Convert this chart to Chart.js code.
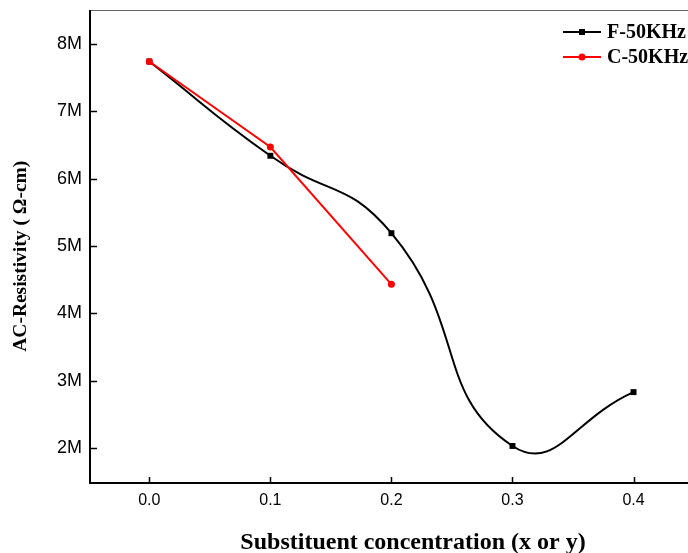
<!DOCTYPE html>
<html>
<head>
<meta charset="utf-8">
<script src="https://cdn.jsdelivr.net/npm/chart.js@4/dist/chart.umd.min.js"></script>
<style>
html,body{margin:0;padding:0;background:#fff;}
#wrap{width:688px;height:553px;position:relative;}
</style>
</head>
<body>
<div id="wrap"><canvas id="c" width="688" height="553"></canvas></div>
<script>
const xValues = [0.0, 0.1, 0.2, 0.3, 0.4];
const fSeries = [7.74e6, 6.34e6, 5.19e6, 2.03e6, 2.83e6];
const cSeries = [7.74e6, 6.47e6, 4.43e6];
const xTicks = [0.0, 0.1, 0.2, 0.3, 0.4];
const yTicks = [2e6, 3e6, 4e6, 5e6, 6e6, 7e6, 8e6];
const seriesNames = ['F-50KHz', 'C-50KHz'];
const xTitle = 'Substituent concentration (x or y)';
const yTitle = 'AC-Resistivity ( \u03A9-cm)';

const fData = fSeries.map((v, i) => ({x: xValues[i], y: v}));
const cData = cSeries.map((v, i) => ({x: xValues[i], y: v}));

function noPad(s) { s.paddingTop = 0; s.paddingBottom = 0; s.paddingLeft = 0; s.paddingRight = 0; }

const decor = {
  id: 'decor',
  afterDraw(chart) {
    const ctx = chart.ctx;
    const a = chart.chartArea;
    const xs = chart.scales.x, ys = chart.scales.y;
    ctx.save();
    // top border
    ctx.strokeStyle = '#666';
    ctx.lineWidth = 1;
    ctx.beginPath(); ctx.moveTo(a.left, a.top + 0.5); ctx.lineTo(a.right, a.top + 0.5); ctx.stroke();
    // axes
    ctx.strokeStyle = '#000';
    ctx.lineWidth = 2;
    ctx.beginPath(); ctx.moveTo(a.left, a.top); ctx.lineTo(a.left, a.bottom); ctx.lineTo(a.right, a.bottom); ctx.stroke();
    // inward ticks
    ctx.lineWidth = 1.5;
    xTicks.forEach(t => {
      const px = Math.round(xs.getPixelForValue(t)) + 0.5;
      ctx.beginPath(); ctx.moveTo(px, a.bottom); ctx.lineTo(px, a.bottom - 6); ctx.stroke();
    });
    yTicks.forEach(t => {
      const py = Math.round(ys.getPixelForValue(t)) + 0.5;
      ctx.beginPath(); ctx.moveTo(a.left, py); ctx.lineTo(a.left + 7, py); ctx.stroke();
    });
    // legend
    const items = [
      {name: seriesNames[0], color: '#000', shape: 'sq', y: 32},
      {name: seriesNames[1], color: '#ff0000', shape: 'ci', y: 57}
    ];
    items.forEach(it => {
      ctx.strokeStyle = it.color; ctx.fillStyle = it.color; ctx.lineWidth = 2;
      ctx.beginPath(); ctx.moveTo(563, it.y); ctx.lineTo(601, it.y); ctx.stroke();
      if (it.shape === 'sq') { ctx.fillRect(579, it.y - 3, 6, 6); }
      else { ctx.beginPath(); ctx.arc(582, it.y, 3.5, 0, Math.PI * 2); ctx.fill(); }
      ctx.fillStyle = '#000';
      ctx.font = 'bold 20px "Liberation Serif"';
      ctx.textBaseline = 'middle';
      ctx.textAlign = 'left';
      ctx.fillText(it.name, 607, it.y + 1);
    });
    ctx.restore();
  }
};

new Chart(document.getElementById('c'), {
  type: 'line',
  data: {
    datasets: [
      {label: seriesNames[1], data: cData, borderColor: '#ff0000', backgroundColor: '#ff0000',
       borderWidth: 2, pointStyle: 'circle', pointRadius: 3.5, pointBorderWidth: 0, tension: 0, order: 0},
      {label: seriesNames[0], data: fData, borderColor: '#000', backgroundColor: '#000',
       borderWidth: 2, pointStyle: 'rect', pointRadius: 4.2, pointBorderWidth: 0, tension: 0.5, order: 1}
    ]
  },
  options: {
    responsive: false,
    animation: false,
    devicePixelRatio: 1,
    layout: {autoPadding: false, padding: {top: 10, right: 0, left: 0, bottom: 0}},
    plugins: {legend: {display: false}, tooltip: {enabled: false}},
    scales: {
      x: {
        type: 'linear', min: -0.049, max: 0.445,
        afterBuildTicks: s => { s.ticks = xTicks.map(v => ({value: v})); },
        afterFit: s => { s.height = 70; noPad(s); },
        grid: {display: false, drawTicks: false},
        border: {display: false},
        ticks: {padding: 8, color: '#000', font: {family: 'Liberation Sans', size: 16},
                callback: v => v.toFixed(1)},
        title: {display: true, text: '\u00A0'.repeat(8) + xTitle, color: '#000', padding: {top: 0, bottom: -4},
                font: {family: 'Liberation Serif', size: 24, weight: 'bold'}}
      },
      y: {
        type: 'linear', min: 1.48e6, max: 8.505e6,
        afterBuildTicks: s => { s.ticks = yTicks.map(v => ({value: v})); },
        afterFit: s => { s.width = 90; noPad(s); },
        grid: {display: false, drawTicks: false},
        border: {display: false},
        ticks: {padding: 8, color: '#000', font: {family: 'Liberation Sans', size: 18},
                callback: v => (v / 1e6) + 'M'},
        title: {display: true, text: yTitle + '\u00A0\u00A0\u00A0\u00A0', color: '#000', padding: {top: 9, bottom: 0},
                font: {family: 'Liberation Serif', size: 19.5, weight: 'bold'}}
      }
    }
  },
  plugins: [decor]
});
</script>
</body>
</html>
